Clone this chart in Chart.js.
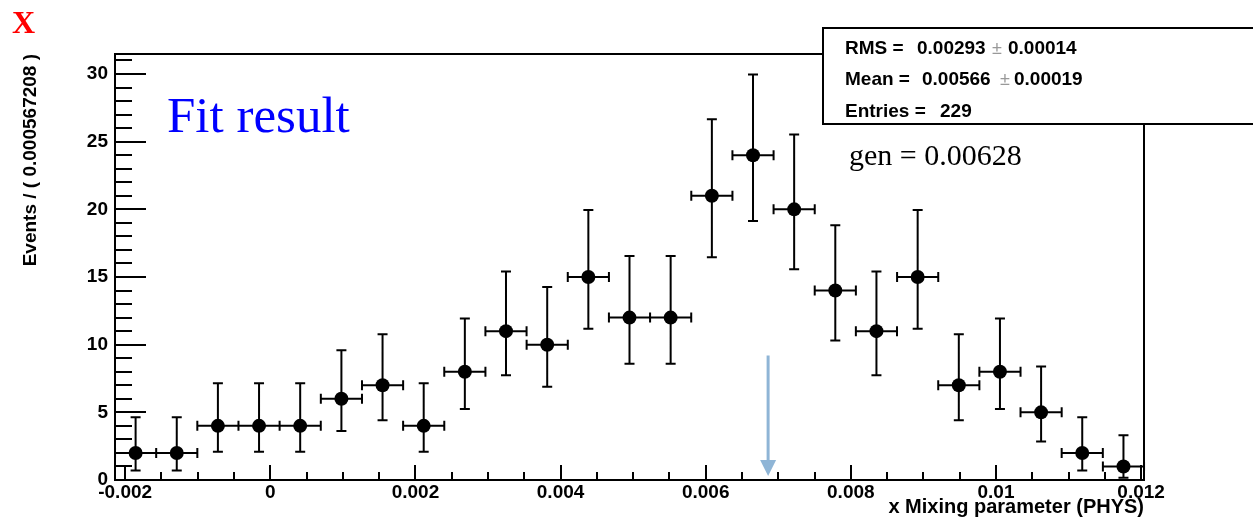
<!DOCTYPE html>
<html><head><meta charset="utf-8">
<script src="https://cdn.jsdelivr.net/npm/chart.js@4.4.1/dist/chart.umd.min.js"></script>
<style>html,body{margin:0;padding:0;background:#fff;overflow:hidden}canvas{display:block}</style>
</head><body>
<canvas id="c" width="1253" height="522"></canvas>
<script>
// ---- data ----
const binCenters = [-0.001856, -0.001289, -0.000722, -0.000155, 0.000412, 0.000980, 0.001547, 0.002114,
  0.002681, 0.003248, 0.003816, 0.004383, 0.004950, 0.005517, 0.006085, 0.006652, 0.007219, 0.007786,
  0.008353, 0.008921, 0.009488, 0.010055, 0.010622, 0.011189, 0.011757];
const counts = [2, 2, 4, 4, 4, 6, 7, 4, 8, 11, 10, 15, 12, 12, 21, 24, 20, 14, 11, 15, 7, 8, 5, 2, 1];
const errLow = [0.71, 0.71, 2.09, 2.09, 2.09, 3.63, 4.42, 2.09, 5.24, 7.74, 6.90, 11.17, 8.59, 8.59,
  16.46, 19.14, 15.57, 10.31, 7.74, 11.17, 4.42, 5.24, 2.85, 0.71, 0.17];
const errHigh = [4.64, 4.64, 7.15, 7.15, 7.15, 9.58, 10.77, 7.15, 11.94, 15.41, 14.26, 19.95, 16.55, 16.55,
  26.65, 29.96, 25.54, 18.83, 15.41, 19.95, 10.77, 11.94, 8.38, 4.64, 3.30];
const binWidth = 0.000567208;
const xRange = [-0.00214, 0.01204];
const yRange = [0, 31.48];
const xTickValues = [-0.002, 0, 0.002, 0.004, 0.006, 0.008, 0.01, 0.012];
const xTickLabels = ['-0.002', '0', '0.002', '0.004', '0.006', '0.008', '0.01', '0.012'];
const yTickValues = [0, 5, 10, 15, 20, 25, 30];
const yTickLabels = ['0', '5', '10', '15', '20', '25', '30'];
const genArrow = [0.00686, 9.2, 0.3]; // x, top, tip
const statLabels = ['RMS =', 'Mean =', 'Entries ='];
const statValues = ['0.00293', '0.00566', '229'];
const statErrors = ['0.00014', '0.00019', ''];
const xTitle = 'x Mixing parameter (PHYS)';
const yTitle = 'Events / ( 0.000567208 )';

const SANS = "'Liberation Sans', Arial, Helvetica, sans-serif";
const SERIF = "'Liberation Serif', 'Times New Roman', serif";

const rootPlugin = {
  id: 'rootStyle',
  beforeDatasetsDraw(chart) {
    const {ctx, chartArea: a, scales: {x, y}} = chart;
    ctx.save();
    ctx.strokeStyle = '#000';
    ctx.lineWidth = 2;
    // frame
    ctx.strokeRect(a.left, a.top, a.right - a.left, a.bottom - a.top);
    // x ticks (inward)
    ctx.beginPath();
    for (let k = -5; k <= 25; k++) {
      const v = k * 0.0005;
      if (v < xRange[0] || v > xRange[1] + 1e-9) continue;
      const major = k % 4 === 0;
      const px = Math.round(x.getPixelForValue(v));
      ctx.moveTo(px, a.bottom);
      ctx.lineTo(px, a.bottom - (major ? 15 : 8));
    }
    // y ticks (inward)
    for (let k = 0; k <= 31; k++) {
      const major = k % 5 === 0;
      const py = Math.round(y.getPixelForValue(k));
      ctx.moveTo(a.left, py);
      ctx.lineTo(a.left + (major ? 31 : 17), py);
    }
    ctx.stroke();
    // error bars
    ctx.lineWidth = 2;
    ctx.beginPath();
    binCenters.forEach((c, i) => {
      const px = x.getPixelForValue(c);
      const py = y.getPixelForValue(counts[i]);
      const xl = x.getPixelForValue(c - binWidth / 2);
      const xr = x.getPixelForValue(c + binWidth / 2);
      const yt = y.getPixelForValue(errHigh[i]);
      const yb = y.getPixelForValue(errLow[i]);
      ctx.moveTo(xl, py); ctx.lineTo(xr, py);
      ctx.moveTo(xl, py - 5); ctx.lineTo(xl, py + 5);
      ctx.moveTo(xr, py - 5); ctx.lineTo(xr, py + 5);
      ctx.moveTo(px, yt); ctx.lineTo(px, yb);
      ctx.moveTo(px - 5, yt); ctx.lineTo(px + 5, yt);
      ctx.moveTo(px - 5, yb); ctx.lineTo(px + 5, yb);
    });
    ctx.stroke();
    ctx.restore();
  },
  afterDraw(chart) {
    const {ctx, scales: {x, y}} = chart;
    ctx.save();
    // arrow
    const ax = x.getPixelForValue(genArrow[0]);
    const at = y.getPixelForValue(genArrow[1]);
    const ab = y.getPixelForValue(genArrow[2]);
    ctx.strokeStyle = '#8fb5d6';
    ctx.fillStyle = '#8fb5d6';
    ctx.lineWidth = 3;
    ctx.beginPath();
    ctx.moveTo(ax, at); ctx.lineTo(ax, ab - 12);
    ctx.stroke();
    ctx.beginPath();
    ctx.moveTo(ax - 8, ab - 16); ctx.lineTo(ax + 8, ab - 16); ctx.lineTo(ax, ab);
    ctx.closePath(); ctx.fill();

    // stats box
    ctx.fillStyle = '#fff';
    ctx.fillRect(823, 28, 440, 96);
    ctx.strokeStyle = '#000';
    ctx.lineWidth = 2;
    ctx.strokeRect(823, 28, 440, 96);
    ctx.font = 'bold 19px ' + SANS;
    ctx.textBaseline = 'alphabetic';
    ctx.textAlign = 'left';
    const rowsY = [53.5, 85, 117];
    const valX = [917, 922, 940];
    const pmX = [992, 1000];
    const errX = [1008, 1014];
    statLabels.forEach((lab, i) => {
      ctx.fillStyle = '#000';
      ctx.fillText(lab, 845, rowsY[i]);
      ctx.fillText(statValues[i], valX[i], rowsY[i]);
      if (statErrors[i]) {
        ctx.fillStyle = '#999';
        ctx.font = '18px ' + SANS;
        ctx.fillText('\u00b1', pmX[i], rowsY[i]);
        ctx.font = 'bold 19px ' + SANS;
        ctx.fillStyle = '#000';
        ctx.fillText(statErrors[i], errX[i], rowsY[i]);
      }
    });

    // annotations
    ctx.fillStyle = '#0000ff';
    ctx.font = '51px ' + SERIF;
    ctx.fillText('Fit result', 167, 132);
    ctx.fillStyle = '#000';
    ctx.font = '30px ' + SERIF;
    ctx.fillText('gen = 0.00628', 849, 165);
    ctx.fillStyle = '#ff0000';
    ctx.font = 'bold 32px ' + SERIF;
    ctx.fillText('X', 12, 33);
    ctx.restore();
  }
};

new Chart(document.getElementById('c'), {
  type: 'scatter',
  data: {
    datasets: [{
      data: binCenters.map((c, i) => ({x: c, y: counts[i]})),
      pointRadius: 7,
      pointHoverRadius: 7,
      pointBackgroundColor: '#000',
      pointBorderWidth: 0,
      showLine: false
    }]
  },
  options: {
    responsive: false,
    devicePixelRatio: 1,
    animation: false,
    events: [],
    layout: {padding: {left: 0, top: 54, right: 109, bottom: 0}},
    plugins: {legend: {display: false}, tooltip: {enabled: false}},
    scales: {
      x: {
        type: 'linear',
        min: xRange[0], max: xRange[1],
        grid: {display: false, drawTicks: false},
        border: {display: false},
        afterBuildTicks: s => { s.ticks = xTickValues.map(v => ({value: v})); },
        afterFit: s => { s.height = 42; },
        ticks: {
          autoSkip: false, maxRotation: 0, padding: 3, color: '#000',
          font: {family: SANS, size: 19, weight: 'bold', lineHeight: 1},
          callback: (v, i) => xTickLabels[i]
        },
        title: {
          display: true, text: xTitle, align: 'end', color: '#000',
          font: {family: SANS, size: 20, weight: 'bold', lineHeight: 1.2},
          padding: {top: 0, bottom: 3}
        }
      },
      y: {
        type: 'linear',
        min: yRange[0], max: yRange[1],
        grid: {display: false, drawTicks: false},
        border: {display: false},
        afterBuildTicks: s => { s.ticks = yTickValues.map(v => ({value: v})); },
        afterFit: s => { s.width = 115; },
        ticks: {
          autoSkip: false, padding: 7, color: '#000',
          font: {family: SANS, size: 19, weight: 'bold', lineHeight: 1.2},
          callback: (v, i) => yTickLabels[i]
        },
        title: {
          display: true, text: yTitle, align: 'end', color: '#000',
          font: {family: SANS, size: 19, weight: 'bold', lineHeight: 1.2},
          padding: {top: 19, bottom: 0}
        }
      }
    }
  },
  plugins: [rootPlugin]
});
</script>
</body></html>
